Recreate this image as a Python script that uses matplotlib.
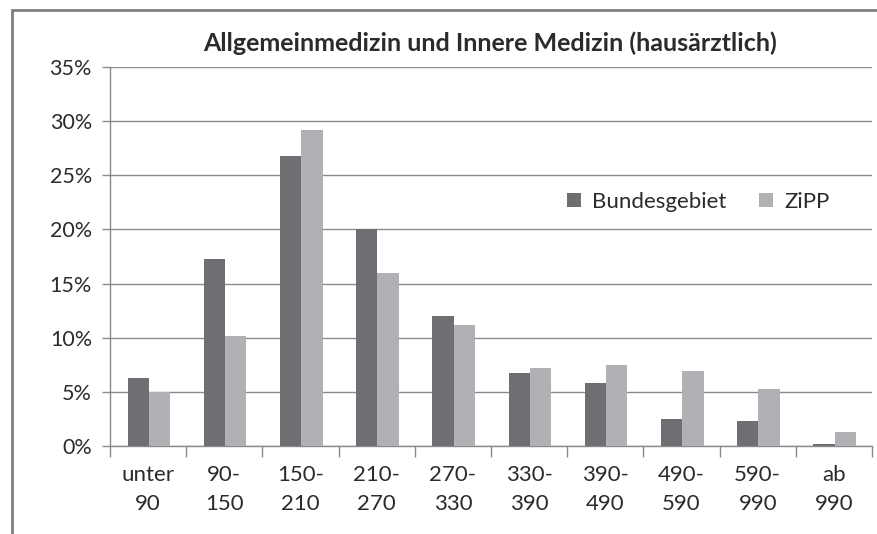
import matplotlib.pyplot as plt
import numpy as np
from matplotlib.patches import Rectangle

# data
categories = ["unter\n90", "90-\n150", "150-\n210", "210-\n270", "270-\n330",
              "330-\n390", "390-\n490", "490-\n590", "590-\n990", "ab\n990"]
bundesgebiet = [6.3, 17.3, 26.8, 20.0, 12.0, 6.7, 5.8, 2.5, 2.3, 0.2]
zipp = [5.0, 10.2, 29.2, 16.0, 11.2, 7.2, 7.5, 6.9, 5.3, 1.3]
yticks = [0, 5, 10, 15, 20, 25, 30, 35]

dark = "#6e6f73"
light = "#b0b1b5"
grid_col = "#8a8a8a"
text_col = "#2b2b2b"

plt.rcParams['font.family'] = ['Lato', 'DejaVu Sans']

fig = plt.figure(figsize=(8.77, 5.34), dpi=100)
ax = fig.add_axes([110 / 877, 1 - 446 / 534, 762 / 877, 379 / 534])

# outer frame of the chart area (runs off right and bottom edge)
fig.patches.append(Rectangle((12 / 877, -0.05), 1.1, 1 - 10 / 534 + 0.05,
                             transform=fig.transFigure, fill=False,
                             edgecolor="#7f7f7f", linewidth=2))

x = np.arange(len(categories))
w = 0.28
ax.bar(x - w / 2 + 0.01, bundesgebiet, w, color=dark, label="Bundesgebiet", zorder=3)
ax.bar(x + w / 2 + 0.01, zipp, w, color=light, label="ZiPP", zorder=3)

ax.set_xlim(-0.5, len(categories) - 0.5)
ax.set_ylim(0, 35)
ax.set_yticks(yticks)
ax.set_yticklabels([f"{t}%" for t in yticks])
ax.yaxis.grid(True, color=grid_col, linewidth=1)
ax.set_axisbelow(True)

ax.set_xticks(x)
ax.set_xticklabels(categories, linespacing=1.55)
ax.set_xticks(np.arange(len(categories) + 1) - 0.5, minor=True)
ax.tick_params(axis="x", which="major", length=0, pad=14, labelsize=16, labelcolor=text_col)
ax.tick_params(axis="x", which="minor", length=8, color=grid_col, width=1)
ax.tick_params(axis="y", length=6, color=grid_col, width=1, pad=7, labelsize=15.5, labelcolor=text_col)

for s in ["top", "right"]:
    ax.spines[s].set_visible(False)
for s in ["left", "bottom"]:
    ax.spines[s].set_color(grid_col)
    ax.spines[s].set_linewidth(1)

fig.text(490 / 877, 1 - 43 / 534, "Allgemeinmedizin und Innere Medizin (hausärztlich)",
         ha="center", va="center", fontsize=18, fontweight="bold", color=text_col)

ax.legend(loc="center", bbox_to_anchor=(0.772, 0.645), ncol=2, frameon=False,
          fontsize=16, handlelength=0.6, handleheight=0.6, handletextpad=0.5,
          columnspacing=1.5, labelcolor=text_col)

fig.savefig("out.png", dpi=100)
